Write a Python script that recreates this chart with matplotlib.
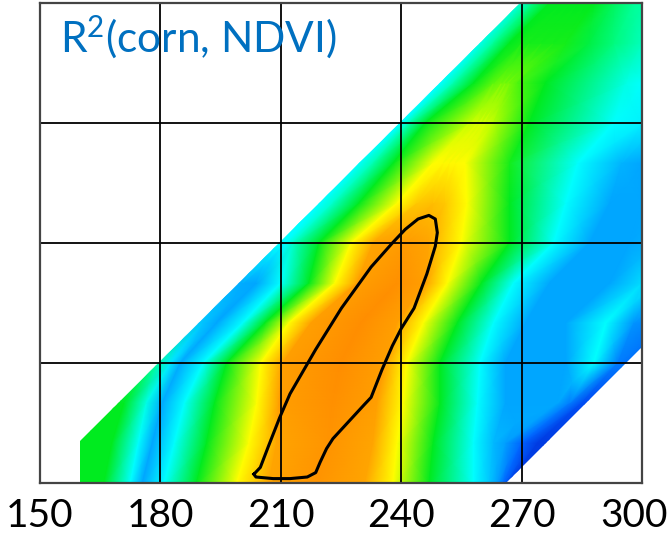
import numpy as np
import matplotlib
matplotlib.use("Agg")
import matplotlib.pyplot as plt
from matplotlib.colors import LinearSegmentedColormap
from matplotlib.patches import Polygon
from matplotlib.transforms import ScaledTranslation

# second day axis (y), one row of samples per value
days_y = [0, 10, 20, 30, 40, 50, 60, 70, 80, 90, 100, 110, 120]

# samples taken along each row at the colour stripes of the map:
# day (x) where each stripe sits, and the R2 read there.
# columns: left fill, green, cyan, blue, cyan, green, yellow, orange, peak,
#          orange, yellow, green, cyan, sky, sky, cyan, edge blue, right fill
stripe_x_y0 = [150, 166, 172.5, 175.5, 181, 189, 199, 207, 219, 231, 238, 247, 258, 262, 264, 265.5, 267, 305]
stripe_x_y10 = [150, 168, 174.5, 178, 183.5, 191.5, 202, 209, 222, 233, 239, 248, 258, 263, 266, 270, 274, 305]
stripe_x_y20 = [150, 171, 176.5, 180.5, 186, 193.5, 204, 209.5, 223, 234, 240.5, 249.7, 259, 266, 279, 282, 285, 305]
stripe_x_y30 = [150, 179, 182.5, 185, 190.7, 196.5, 205, 210.5, 225, 236, 241.4, 249.7, 259.6, 266, 281, 288, 294, 305]
stripe_x_y40 = [150, 188, 190.5, 194, 200.5, 206, 212, 217.5, 230, 239, 245.5, 254, 263, 271, 281, 291, 298, 305]
stripe_x_y50 = [150, 198, 200.5, 204, 210, 217, 223.5, 229, 239, 246, 251.5, 260, 268, 277, 292, 300, 303, 306]
stripe_x_y60 = [150, 207, 209, 211, 213, 219.5, 227.5, 233, 241, 247, 255, 267, 278, 287, 297, 303, 305, 307]
stripe_x_y70 = [150, 216, 218, 220, 223, 229.5, 239, 244, 248, 251, 256.4, 267, 281, 292, 300, 304, 306, 308]
stripe_x_y80 = [150, 226, 228, 229.5, 233, 238, 248, 250.5, 252, 253.5, 256, 267, 284, 295, 300, 304, 306, 308]
stripe_x_y90 = [150, 236, 238, 240, 242, 246, 257, 259, 260, 261, 263, 272, 293, 300, 303, 304, 306, 308]
stripe_x_y100 = [150, 246, 248, 250, 253, 258, 263, 265, 266, 267, 269, 276, 296, 300, 303, 304, 306, 308]
stripe_x_y110 = [150, 256, 258, 260, 263, 267, 270, 272, 275, 278, 281, 287, 293, 300, 303, 304, 306, 308]
stripe_x_y120 = [150, 266, 268, 270, 273, 277, 280, 282, 284, 286, 288, 293, 298, 300, 303, 304, 306, 308]

r2_y0 = [.55, .55, .38, .25, .38, .55, .72, .87, .92, .87, .72, .55, .38, .30, .24, .15, .08, .08]
r2_y10 = [.55, .55, .38, .25, .38, .55, .72, .87, .92, .87, .72, .55, .38, .28, .24, .14, .07, .07]
r2_y20 = [.55, .55, .40, .26, .38, .55, .72, .88, .93, .88, .72, .55, .38, .25, .25, .18, .10, .10]
r2_y30 = [.45, .45, .35, .26, .38, .55, .72, .88, .94, .88, .72, .55, .38, .25, .25, .38, .18, .10]
r2_y40 = [.30, .30, .30, .25, .38, .55, .72, .88, .94, .88, .72, .55, .38, .25, .25, .38, .22, .18]
r2_y50 = [.27, .27, .26, .25, .38, .55, .72, .88, .93, .88, .72, .55, .38, .25, .25, .33, .33, .33]
r2_y60 = [.38, .38, .38, .38, .42, .55, .72, .87, .90, .87, .72, .55, .38, .25, .25, .27, .27, .27]
r2_y70 = [.38, .38, .38, .38, .42, .55, .72, .80, .82, .80, .72, .55, .38, .25, .25, .25, .25, .25]
r2_y80 = [.38, .38, .38, .38, .44, .55, .72, .73, .73, .73, .72, .56, .38, .27, .25, .25, .25, .25]
r2_y90 = [.38, .38, .38, .38, .44, .55, .67, .68, .68, .68, .66, .55, .38, .36, .36, .36, .36, .36]
r2_y100 = [.38, .38, .38, .38, .44, .55, .60, .61, .61, .61, .59, .55, .40, .38, .38, .38, .38, .38]
r2_y110 = [.40, .40, .40, .40, .46, .55, .56, .56, .56, .56, .56, .52, .48, .43, .43, .43, .43, .43]
r2_y120 = [.42, .42, .42, .42, .48, .55, .55, .55, .55, .55, .55, .50, .46, .45, .45, .45, .45, .45]

# limits of the valid band: x - y between start_min and start_max, x >= end_min
start_min = 149.5
start_max = 266
end_min = 160

# black outline of the best region
outline_x = [203.3, 204.9, 207.0, 209.7, 212.3, 218.7, 225.1, 232.5, 237.8, 241.0, 244.2,
             246.9, 248.5, 249.0, 248.5, 246.4, 243.2, 240.0, 237.8, 235.2, 232.5, 230.9,
             223.0, 221.4, 219.8, 218.7, 216.6, 212.3, 208.1, 203.8, 203.3]
outline_y = [2.2, 3.9, 9.4, 16.3, 22.3, 33.4, 43.7, 54.0, 60.0, 63.4, 66.0,
             66.9, 66.0, 62.6, 59.2, 52.3, 43.7, 38.6, 34.3, 28.3, 21.4, 19.7,
             11.1, 8.6, 5.2, 2.6, 1.5, 1.1, 1.1, 1.5, 2.2]

xticks = [150, 180, 210, 240, 270, 300]
yticks = [0, 30, 60, 90, 120]

X = np.array([stripe_x_y0, stripe_x_y10, stripe_x_y20, stripe_x_y30, stripe_x_y40,
              stripe_x_y50, stripe_x_y60, stripe_x_y70, stripe_x_y80, stripe_x_y90,
              stripe_x_y100, stripe_x_y110, stripe_x_y120])
Z = np.array([r2_y0, r2_y10, r2_y20, r2_y30, r2_y40, r2_y50, r2_y60,
              r2_y70, r2_y80, r2_y90, r2_y100, r2_y110, r2_y120])
Y = np.repeat(np.array(days_y, dtype=float)[:, None], X.shape[1], axis=1)

stops = [
    (0.00, (0, 20, 190)),
    (0.12, (0, 90, 255)),
    (0.25, (0, 165, 255)),
    (0.38, (0, 255, 255)),
    (0.46, (0, 255, 150)),
    (0.55, (0, 235, 30)),
    (0.63, (150, 255, 0)),
    (0.72, (255, 255, 0)),
    (0.80, (255, 200, 0)),
    (0.88, (255, 160, 0)),
    (1.00, (255, 125, 0)),
]
cmap = LinearSegmentedColormap.from_list(
    "r2", [(p, tuple(c / 255 for c in rgb)) for p, rgb in stops])

plt.rcParams['font.family'] = ['Lato', 'DejaVu Sans']
plt.rcParams['mathtext.default'] = 'regular'

fig = plt.figure(figsize=(6.69, 5.37), dpi=100)
ax = fig.add_axes([40 / 669, 54 / 537, 602 / 669, 480 / 537])

mesh = ax.pcolormesh(X, Y, Z, cmap=cmap, vmin=0, vmax=1, shading='gouraud')
band = Polygon([(end_min, 0), (end_min, end_min - start_min), (120 + start_min, 120),
                (300, 120), (300, 300 - start_max), (start_max, 0)],
               closed=True, transform=ax.transData)
mesh.set_clip_path(band)

ax.plot(outline_x, outline_y, color='black', lw=2.2, zorder=3)

ax.set_xlim(150, 300)
ax.set_ylim(0, 120)
ax.set_xticks(xticks)
ax.set_yticks(yticks)
ax.set_yticklabels([])
ax.tick_params(length=0, labelsize=28, pad=11)
ax.grid(True, color='black', lw=1.3)
for s in ax.spines.values():
    s.set_color('#444444')
    s.set_linewidth(1.6)

# last label sits slightly inside the figure edge, as in the original
last = ax.get_xticklabels()[-1]
last.set_transform(last.get_transform() + ScaledTranslation(-8 / 100, 0, fig.dpi_scale_trans))

ax.text(0.033, 0.898, 'R$^2$(corn, NDVI)', transform=ax.transAxes,
        fontsize=30.5, color='#0070C0', va='baseline', ha='left')

fig.savefig('out.png', dpi=100)
